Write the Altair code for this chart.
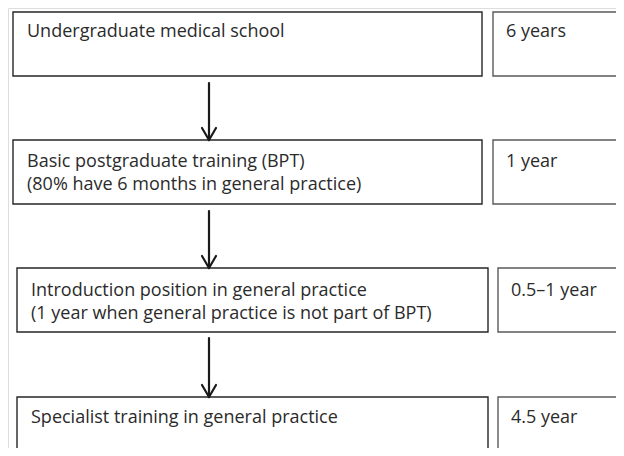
import altair as alt
import pandas as pd

# Flowchart content
stage_lines = [
    ["Undergraduate medical school"],
    ["Basic postgraduate training (BPT)", "(80% have 6 months in general practice)"],
    ["Introduction position in general practice", "(1 year when general practice is not part of BPT)"],
    ["Specialist training in general practice"],
]
durations = ["6 years", "1 year", "0.5\u20131 year", "4.5 year"]

# Layout (reference pixel coordinates)
box_left = [13, 13, 17, 17]
box_right = [482, 482, 488, 488]
dur_left = [493, 493, 498, 498]
box_top = [12, 140, 268, 397]
box_bottom = [76, 204, 332, 470]
first_baseline = [37, 167, 296, 423]
line_gap = 22.5
arrow_x = 209
arrow_from = [83, 211, 338]

boxes = []
for i in range(4):
    boxes.append(dict(x=box_left[i], x2=box_right[i], y=box_top[i], y2=box_bottom[i], kind="stage"))
    boxes.append(dict(x=dur_left[i], x2=660, y=box_top[i], y2=box_bottom[i], kind="dur"))
boxes = pd.DataFrame(boxes)

texts = []
for i in range(4):
    for j, ln in enumerate(stage_lines[i]):
        texts.append(dict(x=box_left[i] + 14, y=first_baseline[i] + j * line_gap, t=ln))
    texts.append(dict(x=dur_left[i] + 13, y=first_baseline[i], t=durations[i]))
texts = pd.DataFrame(texts)

segs = []
for i in range(3):
    tip = box_top[i + 1]
    segs.append(dict(x=arrow_x, x2=arrow_x, y=arrow_from[i], y2=tip))
    segs.append(dict(x=arrow_x - 7, x2=arrow_x, y=tip - 12, y2=tip))
    segs.append(dict(x=arrow_x + 7, x2=arrow_x, y=tip - 12, y2=tip))
segs = pd.DataFrame(segs)

W, H = 608, 440
xs = alt.Scale(domain=[8, 8 + W], range=[0, W])
ys = alt.Scale(domain=[8, 8 + H], range=[0, H])

rects = alt.Chart(boxes).mark_rect(fill="white", strokeWidth=1.4).encode(
    x=alt.X("x:Q", scale=xs, axis=None),
    x2="x2:Q",
    y=alt.Y("y:Q", scale=ys, axis=None),
    y2="y2:Q",
    stroke=alt.Stroke("kind:N", scale=alt.Scale(domain=["stage", "dur"], range=["#262626", "#5a5a5a"]), legend=None),
)

arrows = alt.Chart(segs).mark_rule(color="#1a1a1a", strokeWidth=2.2, strokeCap="round").encode(
    x=alt.X("x:Q", scale=xs, axis=None),
    x2="x2:Q",
    y=alt.Y("y:Q", scale=ys, axis=None),
    y2="y2:Q",
)

labels = alt.Chart(texts).mark_text(
    align="left", baseline="alphabetic", font="Open Sans", fontSize=18, color="#2b2b2b"
).encode(
    x=alt.X("x:Q", scale=xs, axis=None),
    y=alt.Y("y:Q", scale=ys, axis=None),
    text="t:N",
)

chart = (rects + arrows + labels).properties(
    width=W, height=H, padding=0, autosize=alt.AutoSizeParams(type="none")
).configure_view(stroke=None).configure(background="white")

chart.save("out.html", embed_options={"renderer": "svg", "actions": False})
